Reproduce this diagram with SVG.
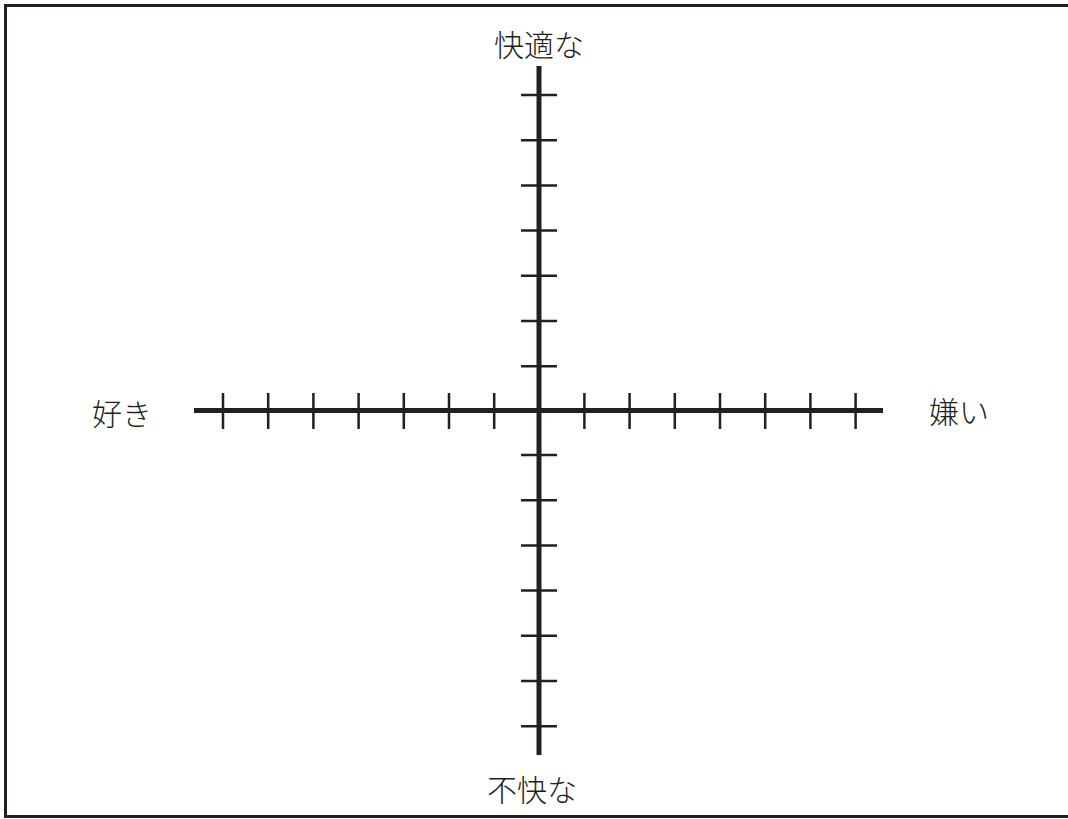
<svg xmlns="http://www.w3.org/2000/svg" width="1068" height="819" viewBox="0 0 1068 819">
<style>
.frame{fill:none;stroke:#231f20;stroke-width:3}
.axis{stroke:#231f20;stroke-width:5;fill:none}
.tick{stroke:#231f20;stroke-width:2.5;fill:none}
.lbl{font-family:"Noto Sans CJK JP","Noto Sans",sans-serif;font-size:30px;font-weight:300;fill:#231f20}
</style>
<rect fill="#ffffff" x="0" y="0" width="1068" height="819"/>
<rect class="frame" x="5.5" y="5.5" width="1070" height="811"/>
<g id="connectors">
<line class="axis" x1="194" y1="410.5" x2="883" y2="410.5"/>
<line class="axis" x1="539" y1="66" x2="539" y2="755"/>
<path class="tick" d="M223,393V429M268.2,393V429M313.4,393V429M358.6,393V429M403.8,393V429M449,393V429M494.2,393V429M584.4,393V429M629.6,393V429M674.8,393V429M720,393V429M765.2,393V429M810.4,393V429M855.6,393V429"/>
<path class="tick" d="M521,95H557M521,140.2H557M521,185.4H557M521,230.6H557M521,275.8H557M521,321H557M521,366.2H557M521,455H557M521,500.2H557M521,545.4H557M521,590.6H557M521,635.8H557M521,681H557M521,726.2H557"/>
</g>
<g id="top"><text class="lbl" x="539" y="56" text-anchor="middle">快適な</text></g>
<g id="bottom"><text class="lbl" x="532" y="801" text-anchor="middle">不快な</text></g>
<g id="left"><text class="lbl" x="92" y="425">好き</text></g>
<g id="right"><text class="lbl" x="929" y="423">嫌い</text></g>
</svg>
